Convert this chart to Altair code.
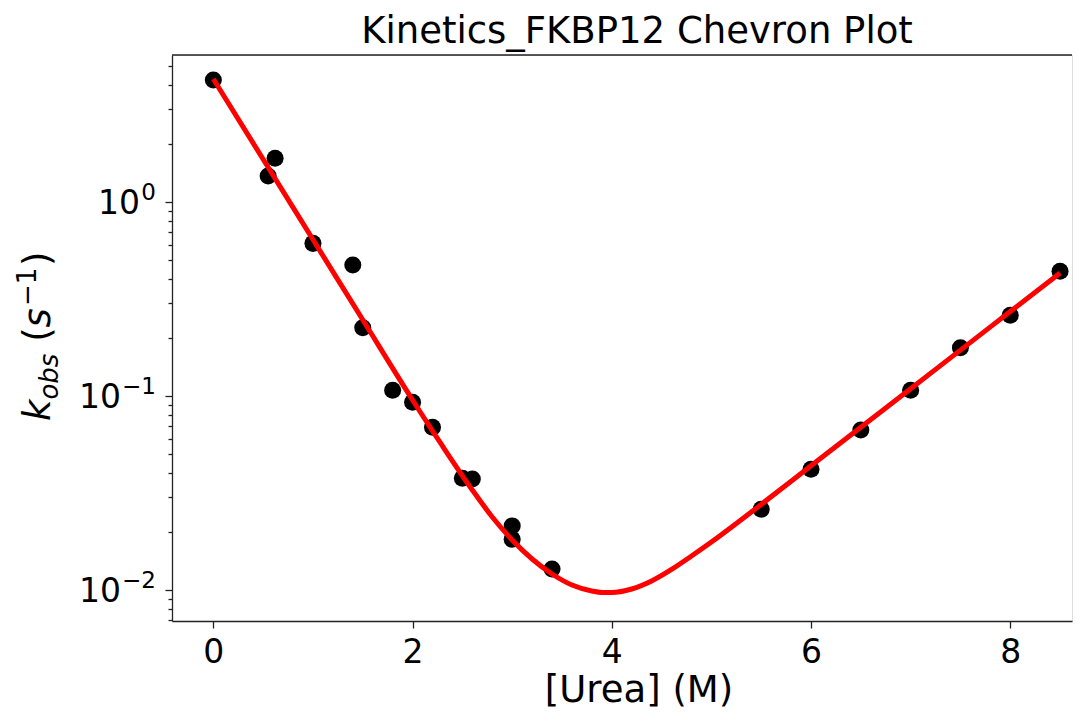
import altair as alt
import pandas as pd

# ---- data ----
urea = [0.0, 0.55, 0.62, 1.0, 1.4, 1.5, 1.8, 2.0, 2.2, 2.5, 2.6, 3.0, 3.0, 3.4,
        5.5, 6.0, 6.5, 7.0, 7.5, 8.0, 8.5]
kobs = [4.25, 1.36, 1.68, 0.612, 0.473, 0.225, 0.107, 0.0928, 0.069, 0.0377, 0.0373,
        0.0214, 0.01825, 0.01283, 0.0261, 0.0419, 0.0668, 0.107, 0.1774, 0.2606, 0.4395]

fit_urea = [0.0, 0.5, 1.0, 1.5, 2.0, 2.3, 2.6, 2.8, 3.0, 3.2, 3.4, 3.6, 3.8, 3.9, 4.0,
            4.2, 4.4, 4.6, 4.8, 5.0, 5.5, 6.0, 6.5, 7.0, 7.5, 8.0, 8.5]
fit_kobs = [4.306, 1.660, 0.6406, 0.2471, 0.09537, 0.05525, 0.03277, 0.02378, 0.01810,
            0.01445, 0.01209, 0.01061, 0.00988, 0.00971, 0.00971, 0.01012, 0.01113,
            0.01276, 0.01497, 0.01768, 0.02762, 0.04367, 0.06906, 0.1090, 0.1724,
            0.2723, 0.4305]

x_ticks = [0, 2, 4, 6, 8]
y_ticks = [0.007, 0.008, 0.009, 0.01, 0.02, 0.03, 0.04, 0.05, 0.06, 0.07, 0.08, 0.09,
           0.1, 0.2, 0.3, 0.4, 0.5, 0.6, 0.7, 0.8, 0.9, 1, 2, 3, 4, 5]
y_major = [0.01, 0.1, 1]
y_major_base = ["10", "10", "10"]
y_major_exp = ["\u22122", "\u22121", "0"]

title_text = "Kinetics_FKBP12 Chevron Plot"
x_title = "[Urea] (M)"
# y title pieces: k_obs (s^-1)
y_title_pieces = ["k", "obs", "(", "s", "\u22121", ")"]

# ---- layout ----
W, H = 900, 566
FONT = "DejaVu Sans"
AX = "#222222"

xscale = alt.Scale(domain=[-0.415, 8.62], nice=False, zero=False)
yscale = alt.Scale(type="log", domain=[0.006921, 5.724], nice=False)

x_axis = alt.Axis(values=x_ticks, title=None, grid=False, format="d",
                  tickSize=7, tickWidth=1.3, tickColor=AX,
                  domainColor=AX, domainWidth=1.3,
                  labelFont=FONT, labelFontSize=33, labelColor="#000000",
                  labelPadding=8, labelFlush=False, labelOverlap=False)

major_test = "indexof([0.01, 0.1, 1], datum.value) >= 0"
y_axis = alt.Axis(values=y_ticks, title=None, grid=False, labels=False,
                  tickSize={"condition": {"test": major_test, "value": 7}, "value": 4},
                  tickWidth=1.3, tickColor=AX,
                  domainColor=AX, domainWidth=1.3)

pts_df = pd.DataFrame({"urea": urea, "kobs": kobs})
fit_df = pd.DataFrame({"urea": fit_urea, "kobs": fit_kobs})

points = alt.Chart(pts_df).mark_circle(size=290, color="#000000", opacity=1).encode(
    x=alt.X("urea:Q", scale=xscale, axis=x_axis),
    y=alt.Y("kobs:Q", scale=yscale, axis=y_axis),
)

fit = alt.Chart(fit_df).mark_line(color="#ff0000", strokeWidth=5,
                                  interpolate="monotone").encode(
    x=alt.X("urea:Q", scale=xscale, axis=x_axis),
    y=alt.Y("kobs:Q", scale=yscale, axis=y_axis),
)

top_spine = alt.Chart(pd.DataFrame({"a": [0]})).mark_rule(
    color=AX, strokeWidth=1.3).encode(
    x=alt.value(0), x2=alt.value(W), y=alt.value(0))


def text_layer(txt, x, y, size, angle=0, style="normal", align="center"):
    return alt.Chart(pd.DataFrame({"t": [txt]})).mark_text(
        font=FONT, fontSize=size, fontStyle=style, angle=angle, align=align,
        baseline="alphabetic", color="#000000").encode(
        text="t:N", x=alt.value(x), y=alt.value(y))


# y tick labels "10^n" built from a base and a raised exponent
exp_widths = {"0": 15, "\u22121": 34, "\u22122": 34}
label_right = -16
ytick_layers = []
for v, b, e in zip(y_major, y_major_base, y_major_exp):
    df = pd.DataFrame({"v": [v], "base": [b], "exp": [e]})
    ew = exp_widths[e]
    ytick_layers.append(
        alt.Chart(df).mark_text(font=FONT, fontSize=33, align="right",
                                baseline="alphabetic", dy=12, color="#000000").encode(
            y=alt.Y("v:Q", scale=yscale, axis=y_axis), x=alt.value(label_right - ew - 1),
            text="base:N"))
    ytick_layers.append(
        alt.Chart(df).mark_text(font=FONT, fontSize=23, align="right",
                                baseline="alphabetic", dy=-2, color="#000000").encode(
            y=alt.Y("v:Q", scale=yscale, axis=y_axis), x=alt.value(label_right),
            text="exp:N"))

title = text_layer(title_text, 465, -12, 37)
xlab = text_layer(x_title, 467, 647, 37)

# rotated y title: (piece index, start y, baseline x, size, style)
ylab_specs = [
    (0, 366.0, -122, 37, "italic"),
    (1, 344.6, -114, 26, "italic"),
    (2, 286.8, -122, 37, "normal"),
    (3, 272.4, -122, 37, "italic"),
    (4, 251.0, -136, 26, "normal"),
    (5, 211.0, -122, 37, "normal"),
]
ylab_layers = [text_layer(y_title_pieces[i], bx, sy, fs, angle=270, style=st, align="left")
               for i, sy, bx, fs, st in ylab_specs]

chart = alt.layer(points, fit, top_spine, title, xlab, *ytick_layers, *ylab_layers).properties(
    width=W, height=H,
    autosize=alt.AutoSizeParams(type="none"),
    padding={"left": 164, "top": 47, "right": 5, "bottom": 90},
).configure_view(stroke=None).configure(background="white")

chart.save("out.html", embed_options={"renderer": "svg", "actions": False})
